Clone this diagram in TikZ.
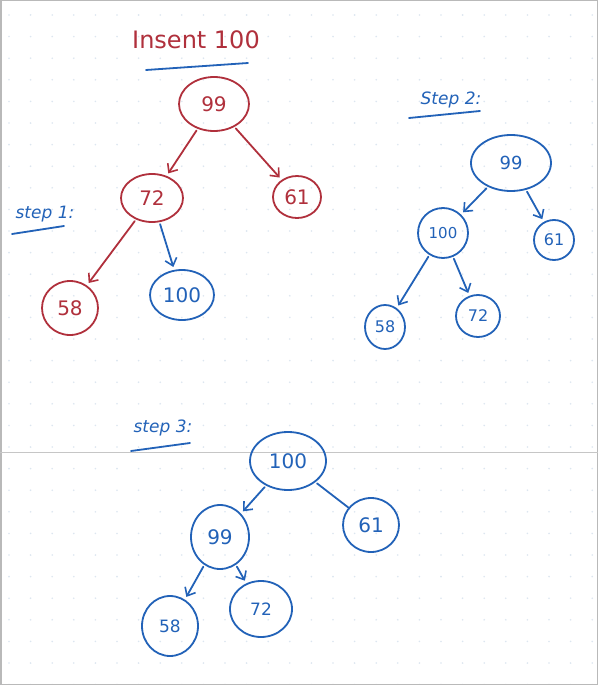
\documentclass[tikz,border=0pt]{standalone}
\usepackage{fontspec}
\setmainfont{DejaVu Sans}
\usetikzlibrary{arrows.meta,shapes.geometric}
\definecolor{ink red}{HTML}{B0303C}
\definecolor{ink blue}{HTML}{2262B8}
\definecolor{griddot}{HTML}{DCE6F0}
\tikzset{
  inkline/.style={line width=1.8pt, line cap=round, line join=round},
  tnode/.style={ellipse, inkline, draw, inner sep=0pt, font=\fontsize{20}{22}\selectfont},
  rednode/.style={tnode, draw=ink red, text=ink red},
  bluenode/.style={tnode, draw=ink blue, text=ink blue},
  edge/.style={inkline, -{Straight Barb[length=7pt,width=12pt,line width=1.6pt]}, shorten >=3pt, shorten <=2pt},
  plainedge/.style={inkline, shorten <=2pt},
  steplabel/.style={text=ink blue, font=\itshape\fontsize{17}{19}\selectfont, inner sep=1pt}
}
\begin{document}
\begin{tikzpicture}[x=1pt,y=-1pt]
\useasboundingbox (0,0) rectangle (598,685);
\fill[white] (0,0) rectangle (598,685);
% grid dots
\foreach \i in {0,...,27} {
  \foreach \j in {0,...,31} {
    \fill[griddot] (9+21.6*\i, 15+21.6*\j) circle (0.9);
  }
}
% frame and separator line
\draw[gray!55, line width=1.5pt] (0.75,0.75) rectangle (597.25,684.25);
\draw[gray!45, line width=1pt] (0,452) -- (598,452);

% title
\node[text=ink red, font=\fontsize{24}{26}\selectfont, inner sep=1pt] (title) at (196,40) {Insent 100};
\coordinate (tu1) at (146,70);
\coordinate (tu2) at (248,63);
\draw[inkline, draw=ink blue] (tu1) -- (tu2);

% step 1
\node[steplabel] (s1) at (45,214) {step 1:};
\coordinate (s1u1) at (12,234);
\coordinate (s1u2) at (64,226);
\draw[inkline, draw=ink blue] (s1u1) -- (s1u2);

\node[rednode, minimum width=70pt, minimum height=54pt] (a99) at (214,104) {99};
\node[rednode, minimum width=62pt, minimum height=48pt] (a72) at (152,198) {72};
\node[rednode, minimum width=48pt, minimum height=42pt] (a61) at (297,197) {61};
\node[rednode, minimum width=56pt, minimum height=54pt] (a58) at (70,308) {58};
\node[bluenode, minimum width=64pt, minimum height=50pt] (a100) at (182,295) {100};
\draw[edge, draw=ink red] (a99) -- (a72);
\draw[edge, draw=ink red] (a99) -- (a61);
\draw[edge, draw=ink red] (a72) -- (a58);
\draw[edge, draw=ink blue] (a72) -- (a100);

% step 2
\node[steplabel] (s2) at (451,100) {Step 2:};
\coordinate (s2u1) at (409,118);
\coordinate (s2u2) at (480,111);
\draw[inkline, draw=ink blue] (s2u1) -- (s2u2);

\node[bluenode, minimum width=80pt, minimum height=56pt, font=\fontsize{18}{20}\selectfont] (b99) at (511,163) {99};
\node[bluenode, minimum width=50pt, minimum height=50pt, font=\fontsize{15}{17}\selectfont] (b100) at (443,233) {100};
\node[bluenode, minimum width=40pt, minimum height=40pt, font=\fontsize{16}{18}\selectfont] (b61) at (554,240) {61};
\node[bluenode, minimum width=40pt, minimum height=44pt, font=\fontsize{16}{18}\selectfont] (b58) at (385,327) {58};
\node[bluenode, minimum width=44pt, minimum height=42pt, font=\fontsize{16}{18}\selectfont] (b72) at (478,316) {72};
\draw[edge, draw=ink blue] (b99) -- (b100);
\draw[edge, draw=ink blue] (b99) -- (b61);
\draw[edge, draw=ink blue] (b100) -- (b58);
\draw[edge, draw=ink blue] (b100) -- (b72);

% step 3
\node[steplabel] (s3) at (163,428) {step 3:};
\coordinate (s3u1) at (131,451);
\coordinate (s3u2) at (190,443);
\draw[inkline, draw=ink blue] (s3u1) -- (s3u2);

\node[bluenode, minimum width=76pt, minimum height=58pt] (c100) at (288,461) {100};
\node[bluenode, minimum width=56pt, minimum height=54pt] (c61) at (371,525) {61};
\node[bluenode, minimum width=58pt, minimum height=64pt] (c99) at (220,537) {99};
\node[bluenode, minimum width=56pt, minimum height=60pt, font=\fontsize{17}{19}\selectfont] (c58) at (170,626) {58};
\node[bluenode, minimum width=62pt, minimum height=56pt, font=\fontsize{17}{19}\selectfont] (c72) at (261,609) {72};
\draw[edge, draw=ink blue] (c100) -- (c99);
\draw[plainedge, draw=ink blue] (c100) -- (c61);
\draw[edge, draw=ink blue] (c99) -- (c58);
\draw[edge, draw=ink blue] (c99) -- (c72);
\end{tikzpicture}
\end{document}
